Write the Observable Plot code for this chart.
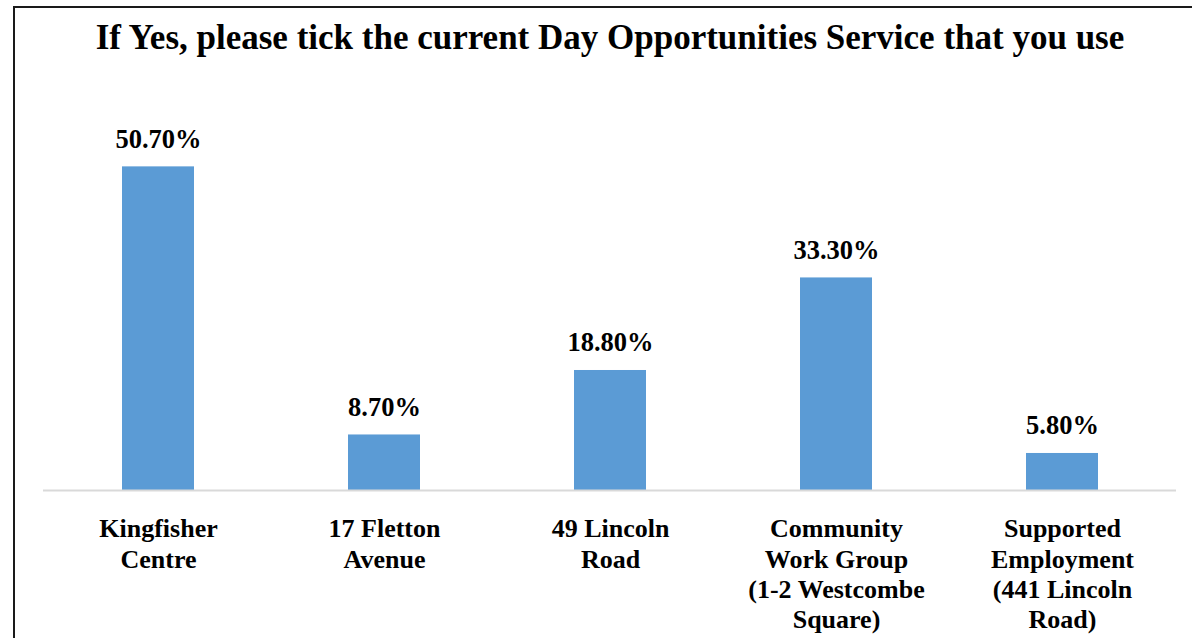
<!DOCTYPE html>
<html>
<head>
<meta charset="utf-8">
<script src="https://cdn.jsdelivr.net/npm/d3@7"></script>
<script src="https://cdn.jsdelivr.net/npm/@observablehq/plot@0.6"></script>
<style>
  html, body { margin: 0; padding: 0; background: #fff; overflow: hidden; }
  #wrap { position: relative; width: 1192px; height: 638px; overflow: hidden; }
  #frame { position: absolute; left: 13px; top: 6px; width: 1300px; height: 700px;
           border-left: 2px solid #1a1a1a; border-top: 2px solid #1a1a1a; box-sizing: border-box; }
  #title { position: absolute; left: 0; top: 18px; width: 1220px; text-align: center;
           font-family: "Liberation Serif", "Times New Roman", serif; font-weight: bold;
           font-size: 35px; line-height: 40px; color: #000; white-space: nowrap; }
  #chart { position: absolute; left: 0; top: 100px; }
</style>
</head>
<body>
<div id="wrap">
  <div id="frame"></div>
  <div id="title">If Yes, please tick the current Day Opportunities Service that you use</div>
  <div id="chart"></div>
</div>
<script>
const categories = ["Kingfisher Centre", "17 Fletton Avenue", "49 Lincoln Road", "Community Work Group (1-2 Westcombe Square)", "Supported Employment (441 Lincoln Road)"];
const values = [50.7, 8.7, 18.8, 33.3, 5.8];
const valueLabels = ["50.70%", "8.70%", "18.80%", "33.30%", "5.80%"];
const tickLabels = ["Kingfisher\nCentre", "17 Fletton\nAvenue", "49 Lincoln\nRoad", "Community\nWork Group\n(1-2 Westcombe\nSquare)", "Supported\nEmployment\n(441 Lincoln\nRoad)"];

const data = categories.map((c, i) => ({category: c, value: values[i], label: valueLabels[i]}));
const tickMap = new Map(categories.map((c, i) => [c, tickLabels[i]]));

const font = '"Liberation Serif", "Times New Roman", serif';

const chart = Plot.plot({
  width: 1192,
  height: 538,
  marginLeft: 43,
  marginRight: 16,
  marginTop: 7,
  marginBottom: 148,
  style: {fontFamily: font, background: "transparent"},
  x: {domain: categories, paddingInner: 0.682, paddingOuter: 0.341, label: null},
  y: {domain: [0, 60], axis: null},
  marks: [
    Plot.barY(data, {x: "category", y: "value", fill: "#5B9BD5"}),
    Plot.ruleY([0], {stroke: "#d9d9d9", strokeWidth: 2}),
    Plot.text(data, {x: "category", y: "value", text: "label", dy: -19, lineAnchor: "bottom",
      fontSize: 26.5, fontWeight: "bold", fill: "#000"}),
    Plot.axisX({tickSize: 0, tickPadding: 25, tickFormat: d => tickMap.get(d), fontSize: 26,
      fontWeight: "bold", lineHeight: 1.17, label: null, fill: "#000"})
  ]
});
document.getElementById("chart").appendChild(chart);
</script>
</body>
</html>
